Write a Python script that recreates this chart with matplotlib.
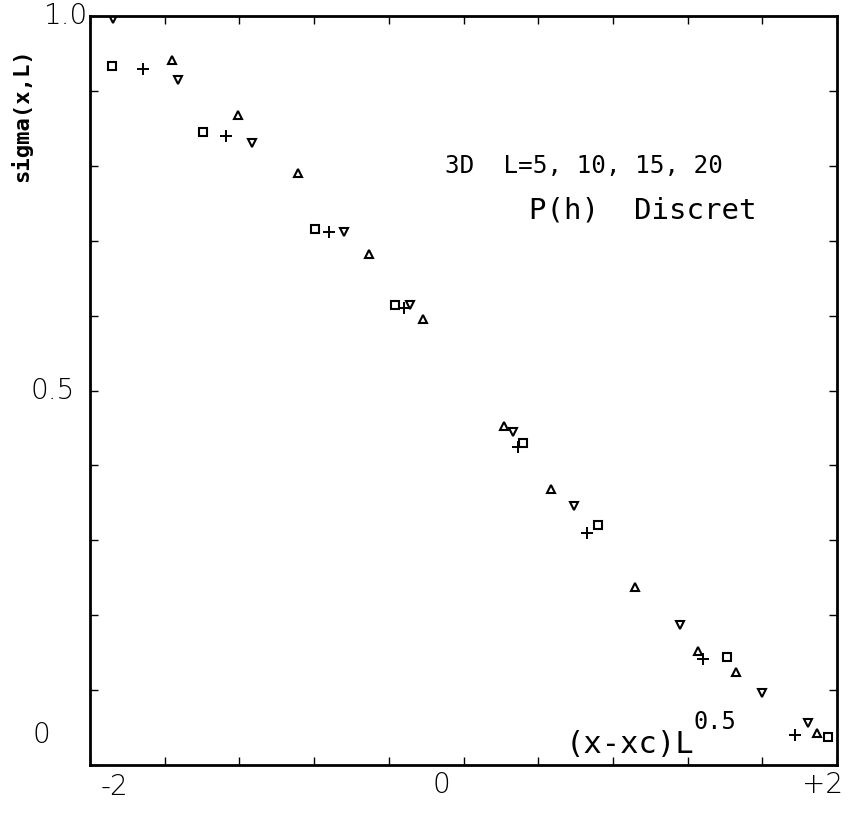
import numpy as np
import matplotlib.pyplot as plt

# scaled data, four system sizes
sq_x = [-1.882, -1.395, -0.795, -0.367, 0.319, 0.720, 1.411, 1.952]
sq_y = [0.933, 0.845, 0.716, 0.614, 0.430, 0.320, 0.144, 0.037]

pl_x = [-1.716, -1.272, -0.720, -0.319, 0.292, 0.661, 1.283, 1.775]
pl_y = [0.929, 0.840, 0.712, 0.610, 0.425, 0.310, 0.142, 0.040]

td_x = [-1.877, -1.529, -1.132, -0.640, -0.286, 0.265, 0.592, 1.159, 1.599, 1.845]
td_y = [0.996, 0.915, 0.830, 0.712, 0.614, 0.445, 0.346, 0.187, 0.096, 0.056]

tu_x = [-1.561, -1.207, -0.886, -0.506, -0.217, 0.217, 0.469, 0.919, 1.256, 1.459, 1.893]
tu_y = [0.941, 0.868, 0.790, 0.682, 0.595, 0.453, 0.368, 0.238, 0.152, 0.124, 0.043]

fig = plt.figure(figsize=(8.6, 8.18), dpi=100)
ax = fig.add_axes([0.1047, 0.0648, 0.8686, 0.9156])

ax.plot(sq_x, sq_y, 's', ms=6, mfc='none', mec='k', mew=1.5, ls='none')
ax.plot(pl_x, pl_y, '+', ms=8, mec='k', mew=1.4, ls='none')
ax.plot(td_x, td_y, 'v', ms=5.5, mfc='none', mec='k', mew=1.5, ls='none')
ax.plot(tu_x, tu_y, '^', ms=5.5, mfc='none', mec='k', mew=1.5, ls='none')

ax.set_xlim(-2, 2)
ax.set_ylim(0, 1.0)
ax.set_xticks(np.arange(-2, 2.01, 0.4))
ax.set_yticks(np.arange(0, 1.01, 0.1))
ax.set_xticklabels([])
ax.set_yticklabels([])
ax.tick_params(direction='in', top=True, right=True, length=6, width=1)
for s in ax.spines.values():
    s.set_linewidth(2)

# hand written axis numbers
hand = dict(fontsize=20, color='k', fontfamily='DejaVu Sans', fontweight='light')
ax.text(-1.87, -0.03, '-2', ha='center', va='center', **hand)
ax.text(-0.12, -0.027, '0', ha='center', va='center', **hand)
ax.text(1.92, -0.027, '+2', ha='center', va='center', **hand)
ax.text(-2.13, 1.0, '1.0', ha='center', va='center', **hand)
ax.text(-2.2, 0.5, '0.5', ha='center', va='center', **hand)
ax.text(-2.26, 0.04, '0', ha='center', va='center', **hand)

mono = dict(fontfamily='DejaVu Sans Mono', color='k')
fig.text(0.024, 0.859, 'sigma(x,L)', rotation=90, ha='center', va='center',
         fontsize=16, fontweight='bold', **mono)
ax.text(-0.1, 0.80, '3D  L=5, 10, 15, 20', ha='left', va='center', fontsize=17.5, **mono)
ax.text(0.35, 0.74, 'P(h)  Discret', ha='left', va='center', fontsize=21, **mono)
ax.text(0.545, 0.027, '(x-xc)L', ha='left', va='center', fontsize=22, **mono)
ax.text(1.23, 0.058, '0.5', ha='left', va='center', fontsize=17, **mono)

fig.savefig('out.png', dpi=100)
